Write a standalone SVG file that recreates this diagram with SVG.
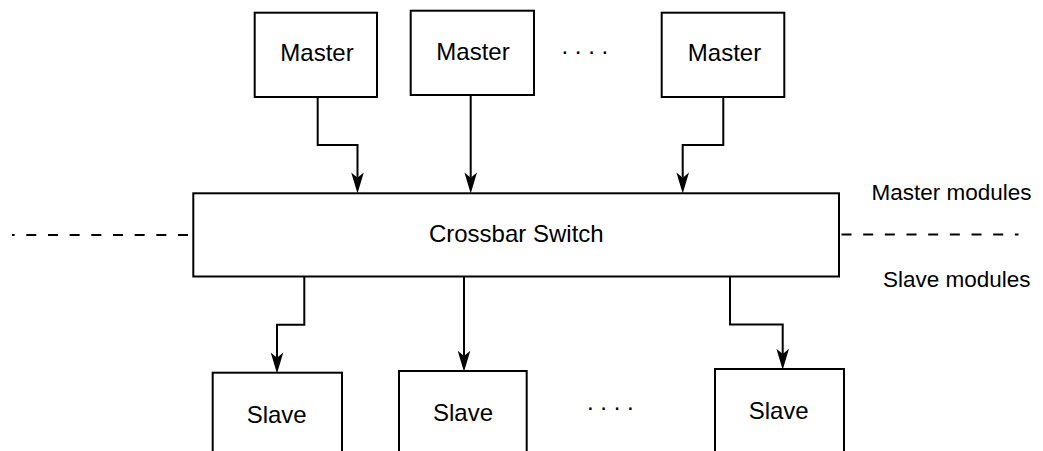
<svg xmlns="http://www.w3.org/2000/svg" width="1043" height="451" viewBox="0 0 1043 451">
<defs>
<style>
.box{fill:#fff;stroke:#000;stroke-width:2}
.lbl{font-family:"Liberation Sans",Helvetica,Arial,sans-serif;font-size:24px;fill:#000;text-anchor:middle}
.side{font-family:"Liberation Sans",Helvetica,Arial,sans-serif;font-size:22.5px;fill:#000;text-anchor:end}
.dots{font-family:"Liberation Sans",Helvetica,Arial,sans-serif;font-size:24px;fill:#000}
.edge{fill:none;stroke:#000;stroke-width:2;marker-end:url(#arr)}
.dash{fill:none;stroke:#000;stroke-width:2;stroke-dasharray:10 11.67}
</style>
<marker id="arr" markerUnits="userSpaceOnUse" markerWidth="21" markerHeight="13" viewBox="0 0 20 12" refX="5" refY="6" orient="auto">
<path d="M0,0 L20,6 L0,12 L5,6 Z" fill="#000"/>
</marker>
</defs>
<rect width="1043" height="451" fill="#fff"/>

<g id="divider">
<path class="dash" d="M188,235 L12,235"/>
<path class="dash" d="M841.5,234.5 L1018.5,234.5"/>
</g>

<g id="master1"><rect class="box" x="254.7" y="12.7" width="122.3" height="84.3"/><text class="lbl" x="317" y="61">Master</text></g>
<g id="master2"><rect class="box" x="410.7" y="10.7" width="123.3" height="84.3"/><text class="lbl" x="473" y="59.5">Master</text></g>
<g id="master3"><rect class="box" x="661.7" y="12.7" width="122.6" height="84.3"/><text class="lbl" x="724.5" y="61">Master</text></g>
<g id="dots-top"><text class="dots" x="561.5" y="53.5">. . . .</text></g>

<g id="crossbar"><rect class="box" x="193.3" y="193.3" width="645.7" height="83.2"/><text class="lbl" x="516.3" y="241.7">Crossbar Switch</text></g>

<g id="slave1"><rect class="box" x="212.7" y="372.7" width="129.3" height="90"/><text class="lbl" x="276.7" y="422.7">Slave</text></g>
<g id="slave2"><rect class="box" x="399" y="371" width="127.7" height="90"/><text class="lbl" x="463" y="421">Slave</text></g>
<g id="slave3"><rect class="box" x="715" y="369" width="129" height="90"/><text class="lbl" x="778.7" y="419.3">Slave</text></g>
<g id="dots-bottom"><text class="dots" x="587" y="410">. . . .</text></g>

<g id="labels">
<text class="side" x="1031.5" y="200">Master modules</text>
<text class="side" x="1030.5" y="286.7">Slave modules</text>
</g>

<g id="connectors">
<path class="edge" d="M317.7,97 L317.7,145 L357.5,145 L357.5,177.7"/>
<path class="edge" d="M470.7,95 L470.7,177.7"/>
<path class="edge" d="M723.3,97 L723.3,145 L682.7,145 L682.7,177.7"/>
<path class="edge" d="M304.3,276.5 L304.3,324.7 L277,324.7 L277,357.7"/>
<path class="edge" d="M464,276.5 L464,356"/>
<path class="edge" d="M730,276.5 L730,324.5 L782.7,324.5 L782.7,354"/>
</g>
</svg>
